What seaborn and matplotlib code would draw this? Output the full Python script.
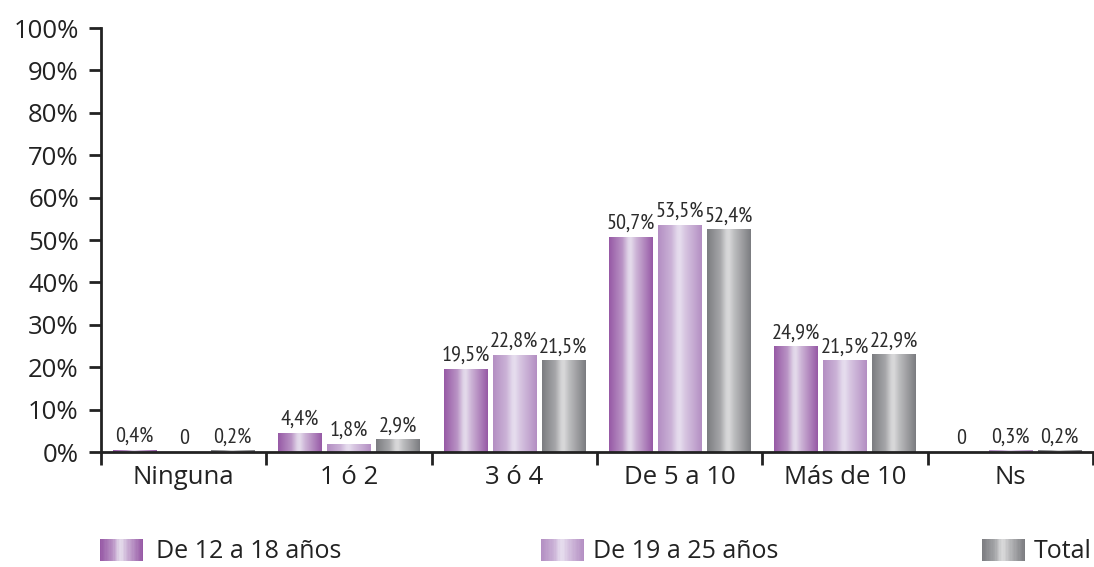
import numpy as np
import pandas as pd
import matplotlib
matplotlib.use("Agg")
import matplotlib.pyplot as plt
import matplotlib.colors as mcolors
from matplotlib.patches import Rectangle
from matplotlib.legend_handler import HandlerPatch
import seaborn as sns

# --- data -------------------------------------------------------------
categories = ["Ninguna", "1 ó 2", "3 ó 4", "De 5 a 10", "Más de 10", "Ns"]
series = ["De 12 a 18 años", "De 19 a 25 años", "Total"]
edad_12_18 = [0.4, 4.4, 19.5, 50.7, 24.9, 0.0]
edad_19_25 = [0.0, 1.8, 22.8, 53.5, 21.5, 0.3]
total = [0.2, 2.9, 21.5, 52.4, 22.9, 0.2]
y_ticks = list(range(0, 101, 10))

# dark edge / light highlight colour of each series' cylinder shading
shades = {
    "De 12 a 18 años": ("#975aa6", "#e4dbeb"),
    "De 19 a 25 años": ("#b48fc3", "#e6ddee"),
    "Total": ("#7c7d81", "#d9d9da"),
}

df = pd.DataFrame({
    "categoria": categories * 3,
    "serie": [s for s in series for _ in categories],
    "valor": edad_12_18 + edad_19_25 + total,
})

sns.set_theme(style="white")
plt.rcParams["font.family"] = ["Open Sans", "DejaVu Sans"]

LABEL_FONT = ["PT Sans Narrow", "DejaVu Sans"]
TEXT_COLOR = "#222222"


def gradient_colors(name, n=64):
    dark, light = (np.array(mcolors.to_rgb(c)) for c in shades[name])
    t = np.linspace(0, 1, n)
    f = np.interp(t, [0.0, 0.3, 0.44, 0.5, 0.62, 1.0],
                  [0.0, 0.45, 0.95, 1.0, 0.7, 0.0])
    return dark[None, :] + (light - dark)[None, :] * f[:, None]


class GradientHandler(HandlerPatch):
    """Legend key drawn as vertical strips of the bar shading."""

    def create_artists(self, legend, orig_handle, xdescent, ydescent,
                       width, height, fontsize, trans):
        cols = gradient_colors(orig_handle.get_label(), 32)
        n = len(cols)
        arts = []
        for i, c in enumerate(cols):
            r = Rectangle((-xdescent + width * i / n, -ydescent),
                          width / n * 1.05, height,
                          facecolor=c, edgecolor="none", transform=trans)
            arts.append(r)
        return arts


fig = plt.figure(figsize=(10.94, 5.67), dpi=100)
ax = fig.add_axes([0.0923, 0.2028, 0.9067, 0.7478])

palette = {s: shades[s][0] for s in series}
sns.barplot(data=df, x="categoria", y="valor", hue="serie", order=categories,
            hue_order=series, palette=palette, width=0.888, gap=0.12,
            legend=False, ax=ax, errorbar=None, saturation=1)

values = {"De 12 a 18 años": edad_12_18, "De 19 a 25 años": edad_19_25,
          "Total": total}

for name, container in zip(series, ax.containers):
    grad = gradient_colors(name)[None, :, :]
    labels = []
    for bar, v in zip(container.patches, values[name]):
        x0 = bar.get_x()
        w = bar.get_width()
        h = bar.get_height()
        bar.set_facecolor("none")
        bar.set_edgecolor("none")
        if h > 0:
            ax.imshow(grad, extent=[x0, x0 + w, 0, max(h, 0.3)],
                      aspect="auto", zorder=2, interpolation="bilinear")
        labels.append("0" if v == 0 else f"{v:.1f}%".replace(".", ","))
    ax.bar_label(container, labels=labels, padding=3, fontsize=16,
                 family=LABEL_FONT, color="#2b2b2b")

ax.set_xlim(-0.5, len(categories) - 0.5)
ax.set_ylim(0, 100)
ax.set_yticks(y_ticks)
ax.set_yticklabels([f"{t}%" for t in y_ticks])
ax.set_xlabel("")
ax.set_ylabel("")

ax.set_xticks(range(len(categories)))
ax.set_xticklabels(categories)
ax.set_xticks(np.arange(-0.5, len(categories)), minor=True)
ax.tick_params(axis="x", which="major", length=0, pad=9, labelsize=18.5,
               labelcolor=TEXT_COLOR)
ax.tick_params(axis="x", which="minor", direction="out", length=9, width=2,
               color=TEXT_COLOR, bottom=True)
ax.tick_params(axis="y", direction="out", length=9, width=2, color=TEXT_COLOR,
               left=True, pad=7, labelsize=18.5, labelcolor=TEXT_COLOR)

for side in ("top", "right"):
    ax.spines[side].set_visible(False)
for side in ("left", "bottom"):
    ax.spines[side].set_color(TEXT_COLOR)
    ax.spines[side].set_linewidth(2)
    ax.spines[side].set_zorder(3)

# one legend entry per series, spread across the bottom
legend_x = [0.0914, 0.4945, 0.8976]
text_pad = [0.52, 0.36, 0.36]
for name, lx, tp in zip(series, legend_x, text_pad):
    handle = Rectangle((0, 0), 1, 1, label=name)
    fig.legend(handles=[handle], loc="center left", bbox_to_anchor=(lx, 0.027),
               frameon=False, fontsize=18, handlelength=1.72,
               handleheight=0.96, handletextpad=tp, borderaxespad=0,
               borderpad=0, labelcolor=TEXT_COLOR,
               handler_map={Rectangle: GradientHandler()})

fig.savefig("out.png", dpi=100)
